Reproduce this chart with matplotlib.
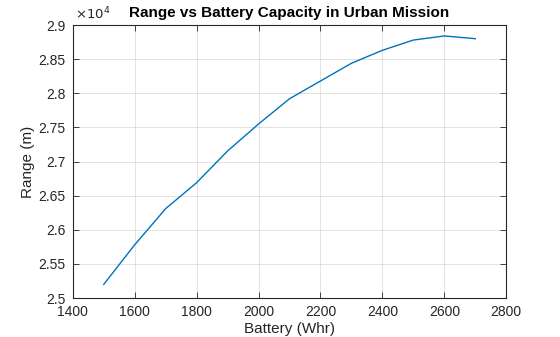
import matplotlib
matplotlib.use("Agg")
import matplotlib.pyplot as plt
from matplotlib.ticker import FuncFormatter

battery = [1500, 1600, 1700, 1800, 1900, 2000, 2100, 2200, 2300, 2400, 2500, 2600, 2700]
range_m = [25200, 25780, 26310, 26690, 27155, 27550, 27920, 28180, 28440, 28630, 28780, 28840, 28800]

xticks = [1400, 1600, 1800, 2000, 2200, 2400, 2600, 2800]
yticks = [25000, 25500, 26000, 26500, 27000, 27500, 28000, 28500, 29000]

plt.rcParams['font.family'] = ['Liberation Sans', 'DejaVu Sans']

fig = plt.figure(figsize=(5.6, 3.37), dpi=100)
ax = fig.add_axes([0.130, 0.1157, 0.774, 0.810])
ax.plot(battery, range_m, color='#0072BD', lw=1.0)
ax.set_xlim(1400, 2800)
ax.set_ylim(25000, 29000)
ax.set_xticks(xticks)
ax.set_yticks(yticks)
ax.yaxis.set_major_formatter(FuncFormatter(lambda v, p: ('%g' % round(v / 1e4, 3))))
ax.grid(True, color='#262626', alpha=0.15, lw=0.6)
ax.tick_params(direction='in', length=4, width=0.6, labelsize=10, colors='#262626',
               top=True, right=True)
ax.tick_params(axis='x', pad=5)
ax.tick_params(axis='y', pad=5)
for s in ax.spines.values():
    s.set_color('#262626')
    s.set_linewidth(0.8)
ax.set_xlabel('Battery (Whr)', fontsize=11, color='#262626', labelpad=2)
ax.set_ylabel('Range (m)', fontsize=11, color='#262626', labelpad=3)
ax.set_title('Range vs Battery Capacity in Urban Mission', fontsize=11, fontweight='bold',
             color='black', pad=6)
ax.text(0.005, 1.01, r'$\times10^{4}$', transform=ax.transAxes, fontsize=9.5,
        color='#262626', ha='left', va='bottom')
fig.savefig('out.png', dpi=100)
